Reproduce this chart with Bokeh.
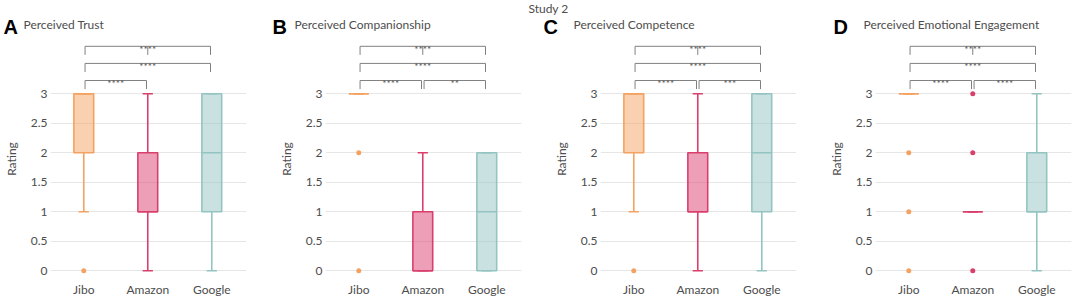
from bokeh.plotting import figure
from bokeh.layouts import row, column
from bokeh.models import FixedTicker, ColumnDataSource, Range1d
from bokeh.embed import file_html
from bokeh.resources import INLINE
from bokeh.core.properties import value

# ---------------- data ----------------
study_title = "Study 2"
categories = ["Jibo", "Amazon", "Google"]
panel_letters = ["A", "B", "C", "D"]
panel_titles = ["Perceived Trust", "Perceived Companionship",
                "Perceived Competence", "Perceived Emotional Engagement"]
y_ticks = [0, 0.5, 1, 1.5, 2, 2.5, 3]
y_tick_labels = ["0", "0.5", "1", "1.5", "2", "2.5", "3"]

trust_q1 = [2, 1, 1]
trust_med = [3, 1, 2]
trust_q3 = [3, 2, 3]
trust_lo = [1, 0, 0]
trust_hi = [3, 3, 3]
trust_out_cat = ["Jibo"]
trust_out_val = [0]

comp_q1 = [3, 0, 0]
comp_med = [3, 0, 1]
comp_q3 = [3, 1, 2]
comp_lo = [3, 0, 0]
comp_hi = [3, 2, 2]
comp_out_cat = ["Jibo", "Jibo"]
comp_out_val = [2, 0]

compet_q1 = [2, 1, 1]
compet_med = [3, 1, 2]
compet_q3 = [3, 2, 3]
compet_lo = [1, 0, 0]
compet_hi = [3, 3, 3]
compet_out_cat = ["Jibo"]
compet_out_val = [0]

emo_q1 = [3, 1, 1]
emo_med = [3, 1, 1]
emo_q3 = [3, 1, 2]
emo_lo = [3, 1, 0]
emo_hi = [3, 1, 3]
emo_out_cat = ["Jibo", "Jibo", "Jibo", "Amazon", "Amazon", "Amazon"]
emo_out_val = [2, 1, 0, 3, 2, 0]

# significance brackets: (group a, group b, row level, label, middle tick)
trust_brackets = [("Jibo", "Google", 3, "****", True),
                  ("Jibo", "Google", 2, "****", False),
                  ("Jibo", "Amazon", 1, "****", False)]
comp_brackets = [("Jibo", "Google", 3, "****", True),
                 ("Jibo", "Google", 2, "****", False),
                 ("Jibo", "Amazon", 1, "****", False),
                 ("Amazon", "Google", 1, "**", False)]
compet_brackets = [("Jibo", "Google", 3, "****", True),
                   ("Jibo", "Google", 2, "****", False),
                   ("Jibo", "Amazon", 1, "****", False),
                   ("Amazon", "Google", 1, "***", False)]
emo_brackets = [("Jibo", "Google", 3, "****", True),
                ("Jibo", "Google", 2, "****", False),
                ("Jibo", "Amazon", 1, "****", False),
                ("Amazon", "Google", 1, "****", False)]

panels = [
    (trust_q1, trust_med, trust_q3, trust_lo, trust_hi, trust_out_cat, trust_out_val, trust_brackets),
    (comp_q1, comp_med, comp_q3, comp_lo, comp_hi, comp_out_cat, comp_out_val, comp_brackets),
    (compet_q1, compet_med, compet_q3, compet_lo, compet_hi, compet_out_cat, compet_out_val, compet_brackets),
    (emo_q1, emo_med, emo_q3, emo_lo, emo_hi, emo_out_cat, emo_out_val, emo_brackets),
]

# ---------------- style / layout ----------------
LINE_COLORS = ["#F4A261", "#D93F6D", "#94C4C1"]
TEXT_COLOR = "#4d4d4d"
FONT = "Lato"
LETTER_FONT = "Liberation Sans"
W = 1072
HEADER_H = 38
PANEL_H = 300 - HEADER_H
FRAME_W = 196
FRAME_BOTTOM = 279 - HEADER_H   # inside panel figure
UX = 64.0
UY = 59.0
Y3_PX = 93.3 - HEADER_H
X_START = 0.48
X_END = X_START + FRAME_W / UX
Y_END = 3 + Y3_PX / UY
Y_START = 3 - (FRAME_BOTTOM - Y3_PX) / UY
BOX_W = 0.31
CAP_W = 0.16

# (figure left px, border left, border right, letter px, title px)
layout_specs = [
    (0, 50, 24, 3, 23),
    (270, 55, 4, 272, 294),
    (525, 75, 19, 543, 573),
    (815, 60, 1, 833, 863),
]
STUDY_X = 548
STUDY_Y = 8
LETTER_Y = 26
TITLE_Y = 24

# ---------------- header (study title, panel letters, panel titles) ----------------
header = figure(width=W, height=HEADER_H, x_range=Range1d(0, W), y_range=Range1d(HEADER_H, 0),
                toolbar_location=None, output_backend="svg", min_border=0,
                x_axis_location=None, y_axis_location=None)
header.outline_line_color = None
header.grid.visible = False
header.text(x=[STUDY_X], y=[STUDY_Y], text=[study_title], text_font=value(FONT),
            text_font_size="12px", text_color=TEXT_COLOR, text_align="center",
            text_baseline="middle")
header.text(x=[s[3] for s in layout_specs], y=[LETTER_Y] * 4, text=panel_letters,
            text_font=value(LETTER_FONT), text_font_size="20px", text_font_style="bold",
            text_color="black", text_align="left", text_baseline="middle")
header.text(x=[s[4] for s in layout_specs], y=[TITLE_Y] * 4, text=panel_titles,
            text_font=value(FONT), text_font_size="12px", text_color=TEXT_COLOR,
            text_align="left", text_baseline="middle")

figs = []
for i, (q1, med, q3, lo, hi, out_cat, out_val, brackets) in enumerate(panels):
    x0, bl, br, letter_px, title_px = layout_specs[i]
    w = bl + FRAME_W + br
    p = figure(width=w, height=PANEL_H, x_range=Range1d(X_START, X_END),
               y_range=Range1d(Y_START, Y_END), output_backend="svg",
               toolbar_location=None, min_border_left=bl, min_border_right=br,
               min_border_top=0, min_border_bottom=PANEL_H - FRAME_BOTTOM)
    p.outline_line_color = None
    p.background_fill_color = "white"
    p.border_fill_color = "white"

    xs = [categories.index(c) + 1 for c in categories]
    src = ColumnDataSource(dict(
        x=xs,
        left=[x - BOX_W / 2 for x in xs], right=[x + BOX_W / 2 for x in xs],
        capl=[x - CAP_W / 2 for x in xs], capr=[x + CAP_W / 2 for x in xs],
        q1=q1, med=med, q3=q3, lo=lo, hi=hi, color=LINE_COLORS,
    ))
    p.segment(x0="x", y0="lo", x1="x", y1="q1", source=src, line_color="color", line_width=1.6)
    p.segment(x0="x", y0="q3", x1="x", y1="hi", source=src, line_color="color", line_width=1.6)
    p.segment(x0="capl", y0="lo", x1="capr", y1="lo", source=src, line_color="color", line_width=1.6)
    p.segment(x0="capl", y0="hi", x1="capr", y1="hi", source=src, line_color="color", line_width=1.6)
    p.quad(left="left", right="right", bottom="q1", top="q3", source=src,
           fill_color="color", fill_alpha=0.5, line_color="color", line_width=1.6)
    p.segment(x0="left", y0="med", x1="right", y1="med", source=src, line_color="color", line_width=1.6)

    osrc = ColumnDataSource(dict(
        x=[categories.index(c) + 1 for c in out_cat], y=out_val,
        color=[LINE_COLORS[categories.index(c)] for c in out_cat]))
    p.scatter(x="x", y="y", source=osrc, size=5, color="color", line_width=0)

    # brackets
    bx0, by0, bx1, by1 = [], [], [], []
    tx, ty, tt = [], [], []
    for a, b, level, lab, mid in brackets:
        xa = categories.index(a) + 1 + 0.02
        xb = categories.index(b) + 1 - 0.02
        yl = 3.225 + (level - 1) * 0.29
        yt = yl - 0.145
        bx0 += [xa, xa, xb]
        by0 += [yl, yl, yl]
        bx1 += [xb, xa, xb]
        by1 += [yl, yt, yt]
        if mid:
            xm = (categories.index(a) + categories.index(b)) / 2 + 1
            bx0.append(xm); by0.append(yl); bx1.append(xm); by1.append(yt)
        tx.append((categories.index(a) + categories.index(b)) / 2 + 1)
        ty.append(yl - 0.04)
        tt.append(lab)
    p.segment(x0=bx0, y0=by0, x1=bx1, y1=by1, line_color="#808080", line_width=1)
    p.text(x=tx, y=ty, text=tt, text_font=value(FONT), text_font_size="10px",
           text_color="#555555", text_align="center", text_baseline="alphabetic")

    # axes
    p.xaxis.ticker = FixedTicker(ticks=xs)
    p.xaxis.major_label_overrides = {x: c for x, c in zip(xs, categories)}
    p.yaxis.ticker = FixedTicker(ticks=y_ticks)
    p.yaxis.major_label_overrides = {t: l for t, l in zip(y_ticks, y_tick_labels)}
    p.yaxis.axis_label = "Rating"
    for ax in (p.xaxis[0], p.yaxis[0]):
        ax.axis_line_color = None
        ax.major_tick_line_color = None
        ax.minor_tick_line_color = None
        ax.major_tick_out = 0
        ax.major_tick_in = 0
        ax.minor_tick_out = 0
        ax.minor_tick_in = 0
        ax.major_label_text_font = FONT
        ax.major_label_text_font_size = "12px"
        ax.major_label_text_color = TEXT_COLOR
        ax.axis_label_text_font = FONT
        ax.axis_label_text_font_size = "12px"
        ax.axis_label_text_font_style = "normal"
        ax.axis_label_text_color = TEXT_COLOR
    p.xaxis.major_label_standoff = 2
    p.yaxis.major_label_standoff = 3
    p.yaxis.axis_label_standoff = 9
    p.xgrid.visible = False
    p.ygrid.grid_line_color = "#e6e6e6"
    p.ygrid.grid_line_width = 1
    figs.append(p)

layout = column(header, row(*figs))
open("out.html", "w").write(file_html(layout, INLINE))
